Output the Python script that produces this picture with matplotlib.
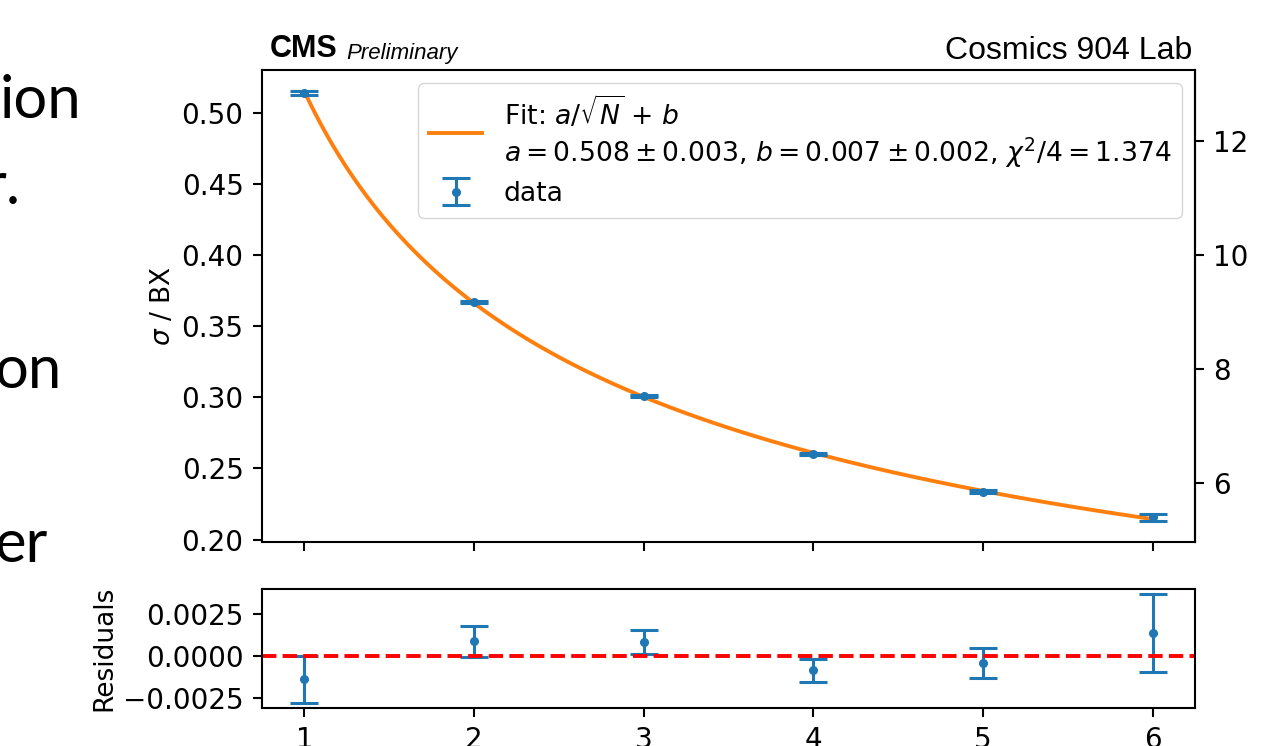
import numpy as np
import matplotlib
matplotlib.use('Agg')
import matplotlib.pyplot as plt

# number of combined layers vs time resolution (in BX)
n_layers = [1, 2, 3, 4, 5, 6]
sigma_bx = [0.5136, 0.3671, 0.3011, 0.2601, 0.2337, 0.2157]
sigma_err = [0.0014, 0.0009, 0.0007, 0.0007, 0.0009, 0.0023]
residuals = [-0.00139, 0.00085, 0.00082, -0.00087, -0.00044, 0.00135]

# fit parameters shown in the legend
fit_a = 0.508
fit_b = 0.007
fit_label = ("Fit: $a/\\sqrt{N}$ + $b$\n"
             "$a = 0.508 \\pm 0.003$, $b = 0.007 \\pm 0.002$, $\\chi^2/4 = 1.374$")
ns_per_bx = 25

# slide text fragments left of the plot
slide_words = ['ion', 'r.', 'on', 'er']

fs = 20
plt.rcParams['axes.linewidth'] = 1.5
plt.rcParams['xtick.major.size'] = 6.6
plt.rcParams['ytick.major.size'] = 6.6
plt.rcParams['xtick.major.width'] = 1.5
plt.rcParams['ytick.major.width'] = 1.5
plt.rcParams['xtick.major.pad'] = 6.6
plt.rcParams['ytick.major.pad'] = 6.6

fig = plt.figure(figsize=(12.63, 7.46), dpi=100)
ax = fig.add_axes([0.2074, 0.2735, 0.7388, 0.6327])
ax_res = fig.add_axes([0.2074, 0.0509, 0.7388, 0.1596], sharex=ax)

# main panel
xs = np.linspace(n_layers[0], n_layers[-1], 300)
ax.plot(xs, fit_a / np.sqrt(xs) + fit_b, color='C1', lw=2.8, label=fit_label)
ax.errorbar(n_layers, sigma_bx, yerr=sigma_err, fmt='o', color='C0', ms=5.5,
            elinewidth=2.2, capsize=10, capthick=2.2, label='data')
ax.set_ylabel(r'$\sigma$ / BX', fontsize=fs - 1)
ax.tick_params(labelsize=fs, labelbottom=False)
ax.legend(loc='upper right', fontsize=19.2, labelspacing=0.4)

sec = ax.secondary_yaxis('right', functions=(lambda y: y * ns_per_bx, lambda y: y / ns_per_bx))
sec.set_yticks([6, 8, 10, 12])
sec.tick_params(labelsize=fs)

ax.text(0.008, 1.012, 'CMS', transform=ax.transAxes, fontsize=22,
        fontweight='bold', family='Liberation Sans', ha='left', va='bottom')
ax.text(0.090, 1.012, 'Preliminary', transform=ax.transAxes, fontsize=16,
        style='italic', family='Liberation Sans', ha='left', va='bottom')
ax.text(0.997, 1.008, 'Cosmics 904 Lab', transform=ax.transAxes, fontsize=23,
        family='Liberation Sans', ha='right', va='bottom')

# residual panel
ax_res.errorbar(n_layers, residuals, yerr=sigma_err, fmt='o', color='C0', ms=5.5,
                elinewidth=2.2, capsize=10, capthick=2.2)
ax_res.axhline(0, color='red', ls='--', lw=2.8)
ax_res.set_ylabel('Residuals', fontsize=fs - 1)
ax_res.set_xticks(n_layers)
ax_res.tick_params(labelsize=fs)

# slide text
word_pos = [(0.0, 0.842), (-0.012, 0.726), (-0.004, 0.480), (-0.004, 0.247)]
for w, (x, y) in zip(slide_words, word_pos):
    fig.text(x, y, w, fontsize=43, family='Lato', ha='left', va='baseline')

fig.savefig('out.png', dpi=100)
